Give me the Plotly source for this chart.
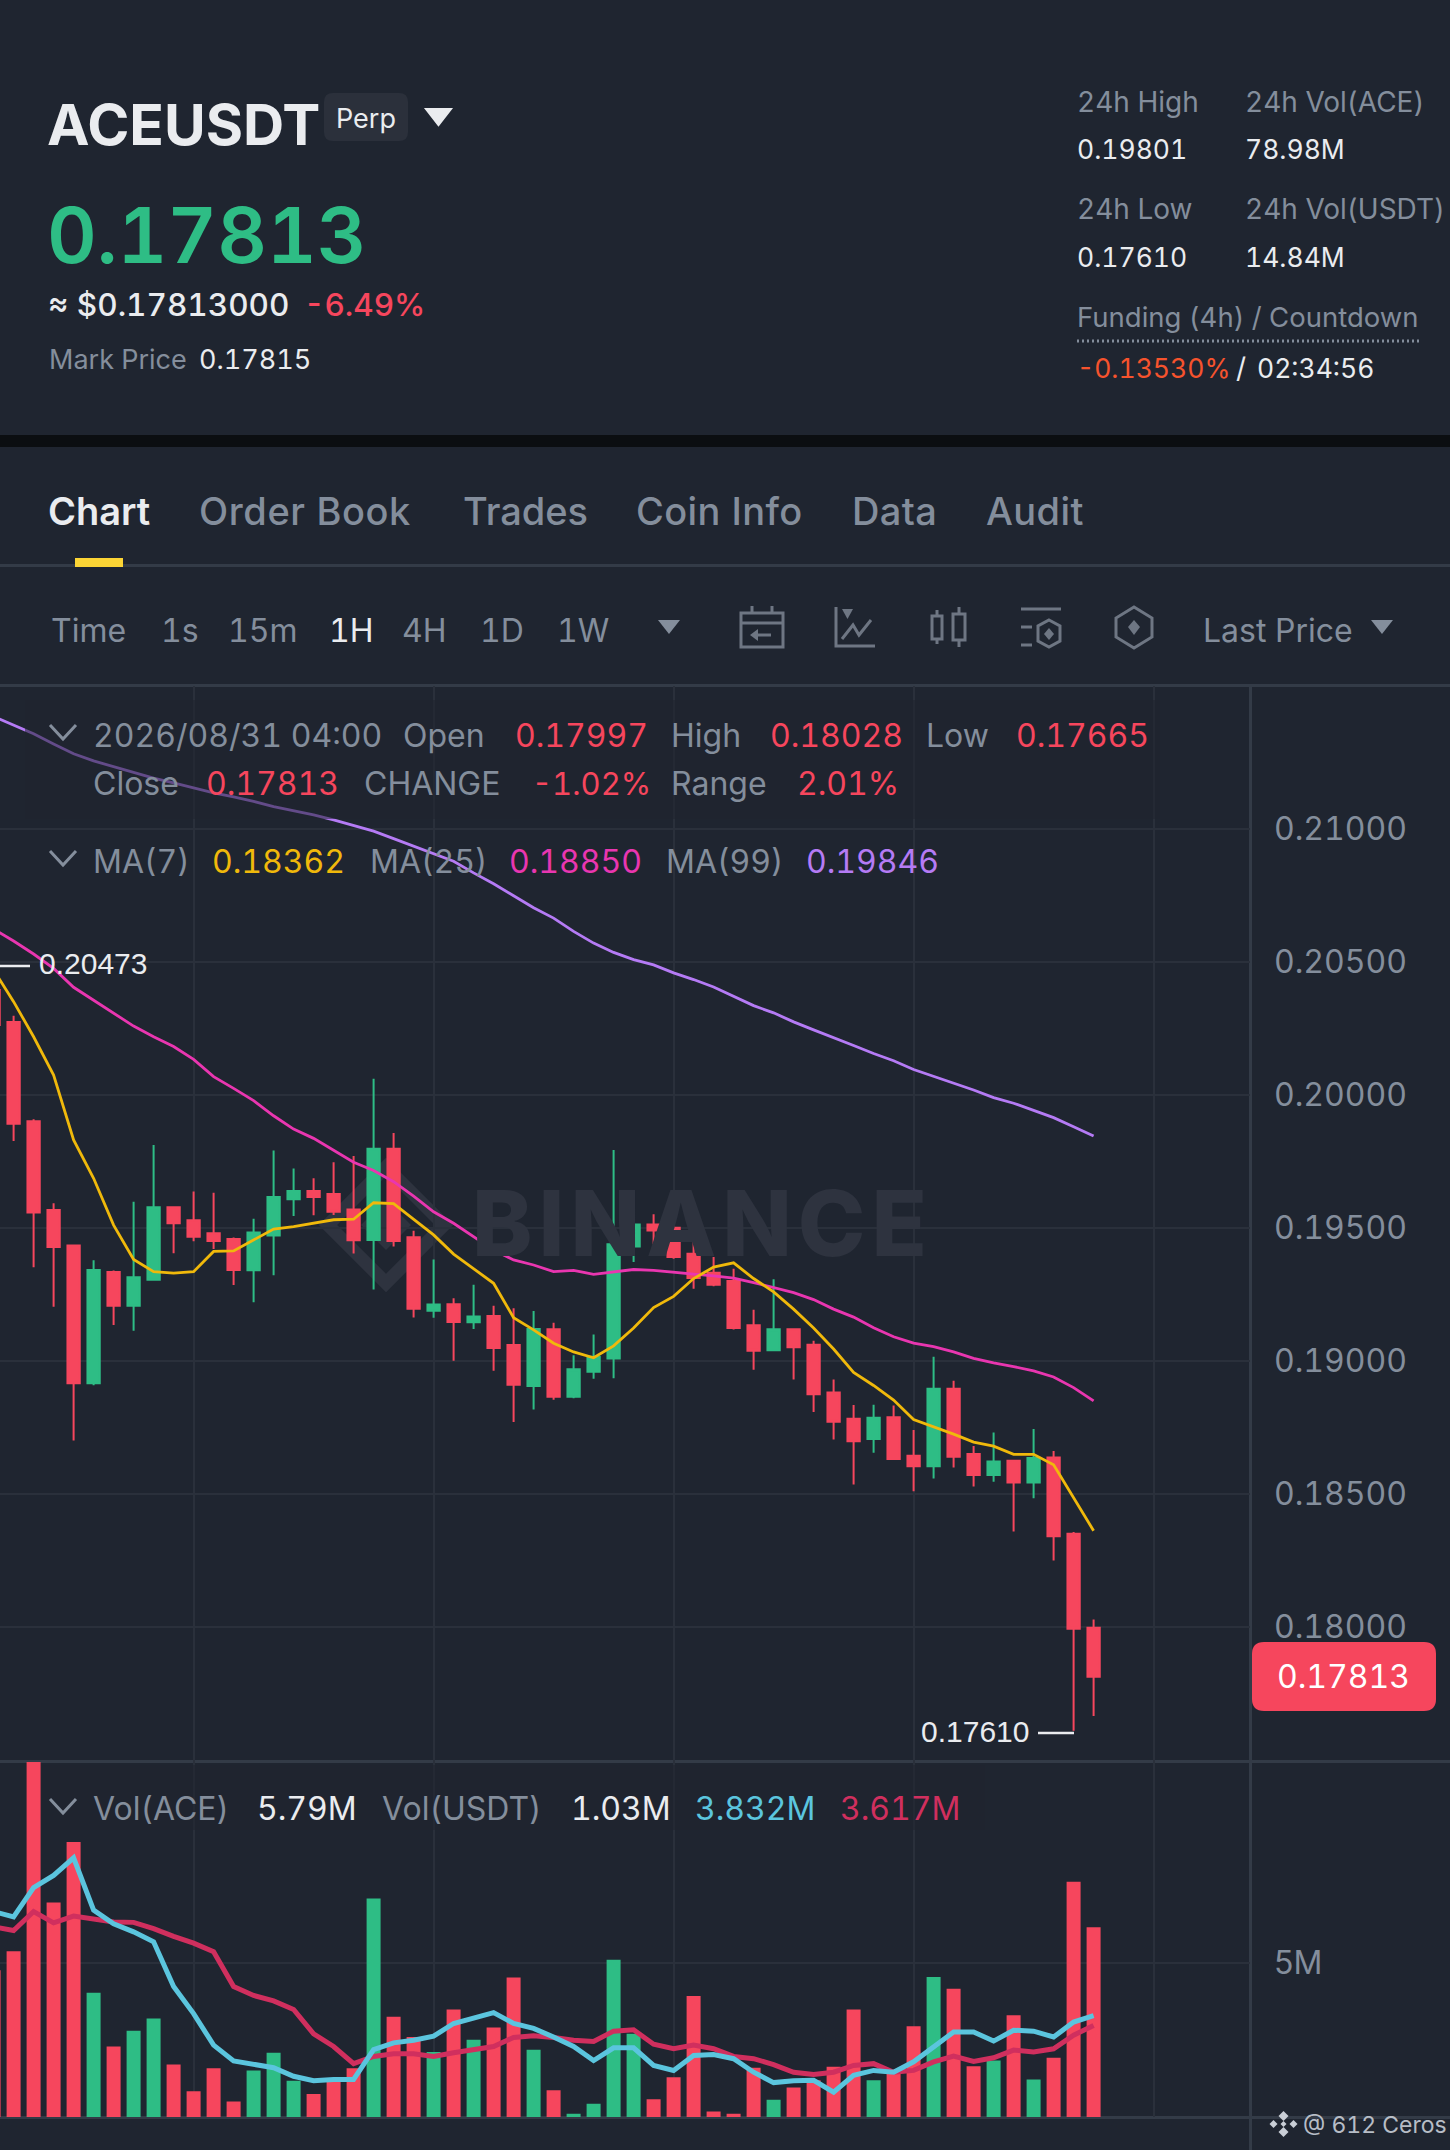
import plotly.graph_objects as go

W, H = 1450, 2150
BG = "#1F2530"
GRID = "#2A303B"
SEP = "#333B47"
GREY = "#848E9C"
WHITE = "#EAECEF"
GREEN = "#2EBD85"
RED = "#F6465D"
YELLOW = "#F0B90B"
PINK = "#E936B0"
PURPLE = "#B57BF5"
BLUE = "#5BC5DE"
CRIMSON = "#D02F5E"
ICON = "#6E7683"

# === Data, hourly candles ===
candle_no = list(range(-1, 55))
open_px = [.20395, .20274, .19901, .19568, .19434, .18916, .19335, .19208, .19305, .19578,
           .19529, .1948, .19459, .19341, .19472, .19608, .19639, .19628, .1957, .19455,
           .19798, .19465, .19189, .19213, .19146, .19169, .1906, .18906, .19119, .18866,
           .1896, .19009, .1943, .19513, .19501, .19403, .19332, .19301, .19134, .1904,
           .19119, .19061, .18882, .18783, .18707, .18789, .18644, .18604, .18896, .1865,
           .18571, .18625, .18543, .18637, .18351, .17997]
high_px = [.20473, .20298, .19909, .19593, .19434, .19379, .1934, .19599, .19812, .19578,
           .19637, .19633, .19464, .19535, .19791, .19724, .19687, .19747, .19771, .20061,
           .19857, .1949, .19382, .19236, .19287, .19208, .19198, .19188, .19144, .19022,
           .191, .19793, .19609, .19552, .19592, .19542, .19391, .19347, .19193, .19307,
           .19121, .19076, .1893, .18835, .18836, .18833, .18741, .19016, .18926, .1868,
           .18731, .18625, .18744, .18662, .18357, .18028]
low_px = [.20263, .19827, .19352, .19204, .18701, .18909, .19135, .19114, .19305, .19405,
          .1945, .19421, .19286, .19221, .19322, .19545, .19548, .19549, .19404, .19269,
          .1943, .19164, .19163, .19001, .1912, .18963, .18771, .18818, .18854, .1886,
          .18933, .18935, .19372, .19439, .19384, .19272, .19281, .19118, .18967, .1904,
          .1893, .18808, .18705, .18536, .18655, .18628, .1851, .18558, .186, .18528,
          .18546, .18359, .18484, .1825, .1761, .17665]
close_px = [.20263, .19892, .19558, .19429, .18916, .19342, .19208, .19315, .19578, .19518,
            .19467, .19451, .19342, .19483, .19617, .19639, .19617, .19561, .19454, .19798,
            .19451, .19196, .19212, .19147, .19167, .19049, .18911, .1912, .18866, .18969,
            .19016, .19439, .19513, .19491, .19391, .19312, .19287, .19124, .19039, .19119,
            .19052, .18875, .18772, .18698, .18787, .18632, .18604, .18896, .1864, .18571,
            .18622, .18543, .18635, .18341, .17993, .17813]
ma7 = [.2047, .20351, .20219, .20075, .19831, .19687, .19511, .19382, .19336, .1933,
       .19336, .19412, .19414, .19455, .19496, .19505, .19518, .19531, .19533, .19595,
       .19592, .19533, .19474, .19402, .19348, .19292, .19163, .19117, .19067, .19034,
       .19012, .19057, .19124, .19201, .19243, .1931, .19353, .19369, .1931, .1926,
       .19195, .19124, .19045, .18957, .18908, .18853, .1878, .18754, .18725, .18695,
       .1868, .18649, .18649, .1861, .18487, .18362]
ma25 = [.20624, .20579, .2053, .20476, .20405, .20357, .20307, .20259, .20219, .20182,
        .20134, .20069, .20025, .19979, .19922, .19872, .19837, .19793, .19747, .19716,
        .19674, .1962, .19561, .19518, .19467, .19417, .1938, .19361, .19336, .19341,
        .19326, .19335, .19344, .19341, .19335, .19327, .1932, .19312, .19295, .19277,
        .19257, .19231, .19195, .19165, .19125, .19091, .19067, .19054, .19034, .1901,
        .18993, .18979, .18963, .1894, .189, .1885]
ma99 = [.21423, .21389, .21358, .2132, .21283, .21256, .21234, .21211, .21191, .21173,
        .21154, .21136, .21121, .21104, .21084, .21068, .21053, .21034, .21013, .20992,
        .20964, .20936, .20909, .20879, .20835, .20794, .20749, .20704, .20665, .20615,
        .20571, .20536, .20509, .20489, .20459, .20434, .20406, .20371, .20336, .20309,
        .20275, .20245, .20214, .20186, .20156, .20129, .20096, .20071, .20046, .20019,
        .1999, .19969, .19942, .19915, .19881, .19846]
volume = [4.84, 5.26, 9.5, 6.34, 7.68, 4.34, 3.15, 3.5, 3.77, 2.75,
          2.16, 2.67, 1.93, 2.62, 3.01, 2.39, 2.10, 2.40, 2.67, 6.43,
          3.81, 3.36, 3.03, 3.97, 3.30, 3.57, 4.68, 3.08, 2.18, 1.66,
          1.88, 5.07, 3.43, 1.98, 2.47, 4.27, 1.71, 1.66, 2.68, 1.97,
          2.24, 2.40, 2.70, 3.97, 2.40, 2.55, 3.60, 4.69, 4.43, 2.71,
          2.84, 3.84, 2.42, 2.90, 6.80, 5.79]
vol_ma_fast = [6.14, 6.02, 6.67, 6.94, 7.33, 6.17, 5.87, 5.69, 5.47, 4.48,
               3.88, 3.18, 2.83, 2.75, 2.68, 2.49, 2.39, 2.42, 2.42, 3.08,
               3.23, 3.29, 3.38, 3.66, 3.78, 3.90, 3.66, 3.55, 3.36, 3.15,
               2.84, 3.12, 3.12, 2.73, 2.62, 2.95, 2.97, 2.88, 2.58, 2.35,
               2.39, 2.40, 2.14, 2.51, 2.62, 2.58, 2.81, 3.14, 3.47, 3.47,
               3.27, 3.51, 3.49, 3.36, 3.69, 3.832]
vol_ma_slow = [5.80, 5.72, 6.14, 5.89, 6.04, 5.97, 5.91, 5.90, 5.76, 5.59,
               5.44, 5.25, 4.48, 4.28, 4.16, 3.97, 3.43, 3.15, 2.77, 2.93,
               2.99, 2.99, 2.93, 3.01, 3.09, 3.15, 3.35, 3.39, 3.35, 3.29,
               3.26, 3.49, 3.52, 3.20, 3.10, 3.18, 3.10, 2.93, 2.88, 2.75,
               2.58, 2.53, 2.58, 2.73, 2.77, 2.58, 2.62, 2.81, 2.94, 2.82,
               2.90, 3.07, 3.03, 3.10, 3.40, 3.617]
price_ticks = [.18, .185, .19, .195, .20, .205, .21]
vol_ticks = [5]
vol_tick_labels = ["5M"]
time_ticks = [9, 21, 33, 45, 57]

bar_colors = [GREEN if c >= o else RED for o, c in zip(open_px, close_px)]


# paper coords from screen pixels
def px(x):
    return x / W


def py(y):
    return 1 - y / H


def path(points, close=False):
    d = "M" + " L".join(f"{px(x):.5f},{py(y):.5f}" for x, y in points)
    return d + (" Z" if close else "")


def round_rect(x0, y0, x1, y1, r):
    def q(x, y):
        return f"{px(x):.5f},{py(y):.5f}"
    return (f"M{q(x0 + r, y0)} L{q(x1 - r, y0)} Q{q(x1, y0)} {q(x1, y0 + r)} "
            f"L{q(x1, y1 - r)} Q{q(x1, y1)} {q(x1 - r, y1)} L{q(x0 + r, y1)} "
            f"Q{q(x0, y1)} {q(x0, y1 - r)} L{q(x0, y0 + r)} Q{q(x0, y0)} {q(x0 + r, y0)} Z")


# the reference font has equal width digits
def tabular(text, spacing=0):
    return f'<span style="font-variant-numeric:tabular-nums;letter-spacing:{spacing}px">{text}</span>'


shapes = []


def add_rect(x0, y0, x1, y1, color, layer="below"):
    shapes.append(dict(type="rect", xref="paper", yref="paper", x0=px(x0), x1=px(x1), y0=py(y0), y1=py(y1),
                       fillcolor=color, line_width=0, layer=layer))


def add_path(d, fill=None, line=None, width=0, layer="above", dash=None):
    s = dict(type="path", xref="paper", yref="paper", path=d, layer=layer)
    s["fillcolor"] = fill if fill else "rgba(0,0,0,0)"
    s["line"] = dict(color=line if line else "rgba(0,0,0,0)", width=width)
    if dash:
        s["line"]["dash"] = dash
    shapes.append(s)


def add_line(points, color=ICON, width=3, layer="above", dash=None):
    add_path(path(points), line=color, width=width, layer=layer, dash=dash)


# header band and separators
add_rect(0, 435, W, 447, "#0B0E11")
add_rect(0, 564, W, 567, SEP)
add_rect(75, 558, 123, 567, "#FCD535")
add_rect(0, 684, W, 687, SEP)
add_rect(0, 1760, W, 1763, SEP)
add_rect(0, 2116, W, 2119, SEP)
add_rect(1249, 686, 1252, H, SEP)

# chip, triangles, tag
add_path(round_rect(324, 93, 408, 141, 9), fill="#2B303B", layer="below")
add_path(path([(426, 109), (451, 109), (438.5, 125)], True), fill=WHITE, line=WHITE, width=2)
add_path(path([(658, 620), (680, 620), (669, 634)], True), fill=GREY)
add_path(path([(1371, 620), (1393, 620), (1382, 634)], True), fill=GREY)
add_path(round_rect(1252, 1642, 1436, 1711, 12), fill=RED)
add_line([(1077, 341), (1422, 341)], color=GREY, width=3, dash="2px,3px")

# legend backdrops dim what passes behind them
add_rect(25, 700, 1160, 819, "rgba(31,37,48,0.55)", layer="above")
add_rect(42, 1765, 985, 1830, "rgba(31,37,48,0.55)", layer="above")

# chevrons
for cy in (732, 858, 1806):
    add_line([(50, cy - 7), (63, cy + 7), (76, cy - 7)], color=GREY, width=3)

# toolbar icons
add_path(path([(741, 613), (783, 613), (783, 647), (741, 647)], True), line=ICON, width=3)
add_line([(741, 623), (783, 623)])
add_line([(752, 606), (752, 613)])
add_line([(772, 606), (772, 613)])
add_line([(771, 635), (753, 635)])
add_path(path([(750, 635), (758, 629), (758, 641)], True), fill=ICON)
add_line([(836, 607), (836, 646), (875, 646)])
add_line([(842, 639), (853, 625), (859, 635), (871, 620)])
add_path(path([(842, 609), (853, 609), (847.5, 619)], True), fill=ICON)
add_path(path([(932, 616), (942, 616), (942, 639), (932, 639)], True), line=ICON, width=3)
add_line([(937, 610), (937, 616)])
add_line([(937, 639), (937, 644)])
add_path(path([(953, 614), (965, 614), (965, 640), (953, 640)], True), line=ICON, width=3)
add_line([(959, 607), (959, 614)])
add_line([(959, 640), (959, 647)])
add_line([(1021, 609), (1061, 609)])
add_line([(1021, 627), (1032, 627)])
add_line([(1021, 645), (1032, 645)])
add_path(path([(1049, 620), (1060, 626), (1060, 641), (1049, 647), (1038, 641), (1038, 626)], True), line=ICON, width=3)
add_path(path([(1049, 628), (1054, 634), (1049, 640), (1044, 634)], True), fill=ICON)
add_path(path([(1134, 607), (1152, 618), (1152, 637), (1134, 648), (1116, 637), (1116, 618)], True), line=ICON, width=3)
add_path(path([(1134, 620), (1140, 627), (1134, 635), (1128, 627)], True), fill=ICON)

# BINANCE logo watermark behind the candles
MARK = "#2E333F"
add_path(path([(386, 1167), (444, 1225), (386, 1283), (328, 1225)], True), line=MARK, width=13, layer="below")
add_path(path([(386, 1200), (411, 1225), (386, 1250), (361, 1225)], True), fill=MARK, layer="below")

# small logo next to the credit
for cx, cy, r in [(1283.5, 2116, 5), (1283.5, 2132, 5), (1273.5, 2124, 4), (1293.5, 2124, 4), (1283.5, 2124, 3)]:
    add_path(path([(cx, cy - r), (cx + r, cy), (cx, cy + r), (cx - r, cy)], True), fill="#C9CED6")

annotations = []


def label(x, y, text, color=GREY, size=32, weight=400, family="Inter", anchor="left", spacing=0):
    annotations.append(dict(xref="paper", yref="paper", x=px(x - 2 if anchor == "left" else x), y=py(y),
                            text=tabular(text, spacing), showarrow=False,
                            xanchor=anchor, yanchor="middle", borderpad=0,
                            font=dict(family=family, color=color, size=size, weight=weight)))


# header texts
label(48, 124, "ACEUSDT", WHITE, 57, 700)
label(337, 119, "Perp", WHITE, 27)
label(48, 235, "0.17813", GREEN, 77, 600)
label(49, 305, "≈ $0.17813000", WHITE, 31.5, 500)
label(305, 305, "-6.49%", RED, 31.5, 500)
label(50, 359, "Mark Price", GREY, 27)
label(200, 359, "0.17815", WHITE, 27)
label(1078, 102, "24h High", GREY, 28)
label(1246, 102, "24h Vol(ACE)", GREY, 28)
label(1078, 149, "0.19801", WHITE, 26.5)
label(1246, 149, "78.98M", WHITE, 26.5)
label(1078, 209, "24h Low", GREY, 28)
label(1246, 209, "24h Vol(USDT)", GREY, 28)
label(1078, 257, "0.17610", WHITE, 26.5)
label(1246, 257, "14.84M", WHITE, 26.5)
label(1078, 317, "Funding (4h) / Countdown", GREY, 27.5)
label(1078, 368, "-0.13530%", "#F6532D", 26.5)
label(1237, 368, "/", WHITE, 28)
label(1258, 368, "02:34:56", WHITE, 26.5)

# tabs
for x, t, c, w, sp in [(49, "Chart", WHITE, 600, 0), (200, "Order Book", GREY, 500, 0.6), (464, "Trades", GREY, 500, 0),
                       (637, "Coin Info", GREY, 500, 0.4), (853, "Data", GREY, 500, 0.4), (987, "Audit", GREY, 500, 0.4)]:
    label(x, 511, t, c, 38, w, spacing=sp)

# toolbar
for x, t, c in [(52, "Time", GREY), (162, "1s", GREY), (229, "15m", GREY), (330, "1H", WHITE), (403, "4H", GREY),
                (481, "1D", GREY), (558, "1W", GREY), (1204, "Last Price", GREY)]:
    label(x, 630, t, c, 32)

# candle legend
for x, y, t, c, s in [(94, 735, "2026/08/31 04:00", GREY, 32), (404, 735, "Open", GREY, 32), (516, 735, "0.17997", RED, 32),
                      (672, 735, "High", GREY, 32), (771, 735, "0.18028", RED, 32), (927, 735, "Low", GREY, 32),
                      (1017, 735, "0.17665", RED, 32), (94, 783, "Close", GREY, 32), (207, 783, "0.17813", RED, 32),
                      (365, 783, "CHANGE", GREY, 32), (533, 783, "-1.02%", RED, 31), (672, 783, "Range", GREY, 32),
                      (798, 783, "2.01%", RED, 32), (94, 861, "MA(7)", GREY, 32), (213, 861, "0.18362", YELLOW, 32),
                      (371, 861, "MA(25)", GREY, 32), (510, 861, "0.18850", PINK, 32), (667, 861, "MA(99)", GREY, 32),
                      (807, 861, "0.19846", PURPLE, 32)]:
    label(x, y, t, c, s)

# volume legend
for x, t, c in [(94, "Vol(ACE)", GREY), (258, "5.79M", WHITE), (383, "Vol(USDT)", GREY), (572, "1.03M", WHITE),
                (696, "3.832M", BLUE), (841, "3.617M", CRIMSON)]:
    label(x, 1808, t, c, 32)

# extremes and price tag
label(40, 964, "0.20473", WHITE, 30, 400, "Liberation Sans")
add_line([(0, 966), (30, 966)], color=WHITE, width=2.5)
label(922, 1731, "0.17610", WHITE, 30, 400, "Liberation Sans")
add_line([(1038, 1733), (1074, 1733)], color=WHITE, width=2.5)
label(1343, 1676, "0.17813", "#FFFFFF", 32, 400, anchor="center")
label(1304, 2125, "@ 612 Ceros", "#B7BDC6", 23)
label(473, 1223, "BINANCE", MARK, 91, 800, spacing=6)

fig = go.Figure()
fig.add_trace(go.Candlestick(
    x=candle_no, open=open_px, high=high_px, low=low_px, close=close_px,
    xaxis="x", yaxis="y", whiskerwidth=0,
    increasing=dict(line=dict(color=GREEN, width=2), fillcolor=GREEN),
    decreasing=dict(line=dict(color=RED, width=2), fillcolor=RED),
    showlegend=False, hoverinfo="skip",
))
for vals, color in [(ma99, PURPLE), (ma25, PINK), (ma7, YELLOW)]:
    fig.add_trace(go.Scatter(x=candle_no, y=vals, mode="lines", line=dict(color=color, width=2.8),
                             xaxis="x", yaxis="y", showlegend=False, hoverinfo="skip"))
fig.add_trace(go.Bar(x=candle_no, y=volume, marker=dict(color=bar_colors, line_width=0), width=0.7,
                     xaxis="x2", yaxis="y2", showlegend=False, hoverinfo="skip"))
for vals, color in [(vol_ma_slow, CRIMSON), (vol_ma_fast, BLUE)]:
    fig.add_trace(go.Scatter(x=candle_no, y=vals, mode="lines", line=dict(color=color, width=5),
                             xaxis="x2", yaxis="y2", showlegend=False, hoverinfo="skip"))

x_common = dict(range=[-0.68, 61.82], domain=[0, px(1250)], tickvals=time_ticks, showticklabels=False,
                showgrid=True, gridcolor=GRID, gridwidth=2, zeroline=False, ticks="", showline=False)
y_common = dict(side="right", showgrid=True, gridcolor=GRID, gridwidth=2, zeroline=False, ticks="",
                showline=False, ticklabelstandoff=23, ticklabelposition="outside",
                tickfont=dict(family="Inter", size=32, color=GREY))

fig.update_layout(
    width=W, height=H, margin=dict(l=0, r=0, t=0, b=0), autosize=False,
    paper_bgcolor=BG, plot_bgcolor=BG, showlegend=False, bargap=0.3, boxgap=0.385, boxgroupgap=0,
    xaxis=dict(x_common, anchor="y", rangeslider=dict(visible=False)),
    xaxis2=dict(x_common, anchor="y2"),
    yaxis=dict(y_common, anchor="x", domain=[py(1762), py(686)], range=[0.174925, 0.215376],
               tickvals=price_ticks, ticktext=[tabular(f"{t:.5f}") for t in price_ticks]),
    yaxis2=dict(y_common, anchor="x2", domain=[py(2117), py(1762)], range=[1.588, 9.453],
                tickvals=vol_ticks, ticktext=vol_tick_labels),
    shapes=shapes, annotations=annotations,
)

fig.write_html("out.html", config=dict(displayModeBar=False),
               post_script="document.body.style.margin='0';document.body.style.overflow='hidden';")
